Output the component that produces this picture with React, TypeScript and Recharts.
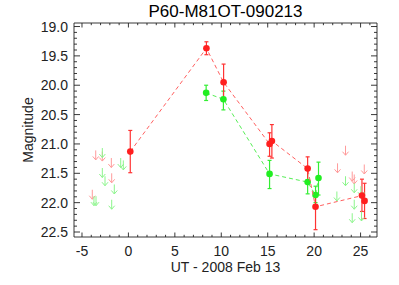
import React from 'react'
import { ComposedChart, Scatter, XAxis, YAxis, ErrorBar, Label } from 'recharts'

// detections (red = R band, green = g band); err = [brighter side, fainter side]
const redT = [0.2, 8.4, 10.25, 15.2, 15.45, 19.3, 20.15, 25.15, 25.43]
const redMag = [21.13, 19.37, 19.95, 21.0, 20.95, 21.42, 22.07, 21.88, 21.97]
const redErrLo = [0.36, 0.11, 0.31, 0.19, 0.28, 0.2, 0.23, 0.28, 0.3]
const redErrHi = [0.36, 0.11, 0.31, 0.21, 0.29, 0.22, 0.39, 0.27, 0.3]

const greenT = [8.37, 10.23, 15.2, 19.3, 20.15, 20.47]
const greenMag = [20.13, 20.24, 21.51, 21.65, 21.87, 21.58]
const greenErrLo = [0.13, 0.14, 0.23, 0.22, 0.15, 0.27]
const greenErrHi = [0.13, 0.18, 0.25, 0.2, 0.13, 0.29]

// upper limits (arrows)
const redLimT = [-3.89, -3.52, -2.81, -1.84, -1.8, 22.52, 23.38, 24.1, 24.32, 25.4]
const redLimMag = [21.78, 21.11, 21.13, 21.24, 21.5, 21.33, 21.03, 21.47, 21.52, 21.35]
const greenLimT = [-3.71, -3.49, -2.81, -2.81, -2.52, -1.8, -1.52, -0.83, -0.55, 22.45, 23.38, 24.32, 24.32, 24.1, 25.04, 25.1, 25.43]
const greenLimMag = [21.89, 21.89, 21.07, 21.41, 21.55, 21.95, 21.69, 21.24, 21.28, 21.81, 21.55, 21.67, 21.95, 22.18, 21.72, 22.15, 21.83]

const xMajor = [-5, 0, 5, 10, 15, 20, 25]
const yMajor = [19.0, 19.5, 20.0, 20.5, 21.0, 21.5, 22.0, 22.5]
const xTicks: number[] = []
for (let i = -5; i <= 26; i++) xTicks.push(i)
const yTicks: number[] = []
for (let i = 190; i <= 225; i++) yTicks.push(i / 10)

const X_DOMAIN = [-5.86, 26.77]
const Y_DOMAIN = [18.94, 22.585]

const FONT = 'Liberation Sans, Arial, sans-serif'
const INK = '#222'

const redPts = redT.map((t, i) => ({ t, m: redMag[i], err: [redErrLo[i], redErrHi[i]] }))
const greenPts = greenT.map((t, i) => ({ t, m: greenMag[i], err: [greenErrLo[i], greenErrHi[i]] }))
const redLims = redLimT.map((t, i) => ({ t, m: redLimMag[i] }))
const greenLims = greenLimT.map((t, i) => ({ t, m: greenLimMag[i] }))

const isMajorX = (v: number) => xMajor.includes(v)
const isMajorY = (v: number) => yMajor.some(m => Math.abs(m - v) < 1e-6)

function makeTick(side: 'bottom' | 'top' | 'left' | 'right') {
  return (props: any) => {
    const { x, y, payload } = props
    const v = payload.value
    if (side === 'bottom' || side === 'top') {
      const major = isMajorX(v)
      const len = major ? 4.5 : 2.2
      const dir = side === 'bottom' ? -1 : 1
      return (
        <g>
          <line x1={x} y1={y} x2={x} y2={y + dir * len} stroke={INK} strokeWidth={0.9} />
          {side === 'bottom' && major && (
            <text x={x} y={y + 13.5} textAnchor="middle" dominantBaseline="central"
              fontFamily={FONT} fontSize={14} fill={INK}>{v}</text>
          )}
        </g>
      )
    }
    const major = isMajorY(v)
    const len = major ? 6 : 3
    const dir = side === 'left' ? 1 : -1
    return (
      <g>
        <line x1={x} y1={y} x2={x + dir * len} y2={y} stroke={INK} strokeWidth={0.9} />
        {side === 'left' && major && (
          <text x={x - 6} y={y} textAnchor="end" dominantBaseline="central"
            fontFamily={FONT} fontSize={14} fill={INK}>{v.toFixed(1)}</text>
        )}
      </g>
    )
  }
}

const arrowShape = (color: string) => (p: any) => (
  <g stroke={color} strokeWidth={1} fill="none">
    <line x1={p.cx} y1={p.cy} x2={p.cx} y2={p.cy + 9.5} />
    <polyline points={`${p.cx - 3},${p.cy + 6} ${p.cx},${p.cy + 9.5} ${p.cx + 3},${p.cy + 6}`} />
  </g>
)

const dotShape = (color: string) => (p: any) => <circle cx={p.cx} cy={p.cy} r={3.3} fill={color} />

export default function App() {
  return (
    <div style={{ position: 'absolute', left: 0, top: 0, width: 399, height: 285, background: '#fff' }}>
      <ComposedChart width={399} height={285} margin={{ top: 3, right: 12, bottom: 8, left: 14 }}>
        <XAxis xAxisId="b" dataKey="t" type="number" domain={X_DOMAIN} allowDataOverflow ticks={xTicks}
          interval={0} height={40} tickSize={0} tickMargin={0} tick={makeTick('bottom')}
          axisLine={{ stroke: INK, strokeWidth: 0.9 }} tickLine={false}>
          <Label content={({ viewBox }: any) => (
            <text x={viewBox.x + viewBox.width / 2} y={viewBox.y + 30} textAnchor="middle"
              dominantBaseline="central" fontFamily={FONT} fontSize={14} fill={INK}>UT - 2008 Feb 13</text>
          )} />
        </XAxis>
        <XAxis xAxisId="t" orientation="top" dataKey="t" type="number" domain={X_DOMAIN} allowDataOverflow
          ticks={xTicks} interval={0} height={20} tickSize={0} tickMargin={0} tick={makeTick('top')}
          axisLine={{ stroke: INK, strokeWidth: 0.9 }} tickLine={false}>
          <Label content={({ viewBox }: any) => (
            <text x={viewBox.x + viewBox.width / 2} y={viewBox.y + viewBox.height - 11.5} textAnchor="middle"
              dominantBaseline="central" fontFamily={FONT} fontSize={17} fill="#000">P60-M81OT-090213</text>
          )} />
        </XAxis>
        <YAxis yAxisId="l" dataKey="m" type="number" reversed domain={Y_DOMAIN} allowDataOverflow ticks={yTicks}
          interval={0} width={60} tickSize={0} tickMargin={0} tick={makeTick('left')}
          axisLine={{ stroke: INK, strokeWidth: 0.9 }} tickLine={false}>
          <Label content={({ viewBox }: any) => {
            const cx = viewBox.x + viewBox.width - 46
            const cy = viewBox.y + viewBox.height / 2
            return (
              <text x={cx} y={cy} transform={`rotate(-90, ${cx}, ${cy})`} textAnchor="middle"
                dominantBaseline="central" fontFamily={FONT} fontSize={14} fill={INK}>Magnitude</text>
            )
          }} />
        </YAxis>
        <YAxis yAxisId="r" orientation="right" dataKey="m" type="number" reversed domain={Y_DOMAIN} allowDataOverflow
          ticks={yTicks} interval={0} width={10} tickSize={0} tickMargin={0} tick={makeTick('right')}
          axisLine={{ stroke: INK, strokeWidth: 0.9 }} tickLine={false} />

        <Scatter xAxisId="b" yAxisId="l" data={redLims} shape={arrowShape('#ff9a9a')} isAnimationActive={false} />
        <Scatter xAxisId="b" yAxisId="l" data={greenLims} shape={arrowShape('#8cf58c')} isAnimationActive={false} />

        <Scatter xAxisId="b" yAxisId="l" data={greenPts} shape={dotShape('#22ee22')}
          line={{ stroke: '#55ee55', strokeWidth: 1, strokeDasharray: '4 3' }} lineType="joint"
          isAnimationActive={false}>
          <ErrorBar dataKey="err" direction="y" width={2} stroke="#33ee33" strokeWidth={1.2} isAnimationActive={false} />
        </Scatter>
        <Scatter xAxisId="b" yAxisId="l" data={redPts} shape={dotShape('#ff1f1f')}
          line={{ stroke: '#ff6060', strokeWidth: 1, strokeDasharray: '4 3' }} lineType="joint"
          isAnimationActive={false}>
          <ErrorBar dataKey="err" direction="y" width={2} stroke="#ff3333" strokeWidth={1.2} isAnimationActive={false} />
        </Scatter>
      </ComposedChart>
    </div>
  )
}
